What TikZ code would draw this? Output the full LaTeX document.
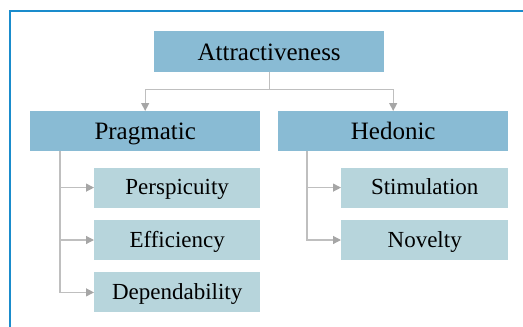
\documentclass[tikz,border=0pt]{standalone}
\usepackage{fontspec}
\setmainfont{Liberation Serif}
\usepackage{tikz}
\usetikzlibrary{arrows.meta,calc,positioning}
\definecolor{frameblue}{RGB}{26,140,204}
\definecolor{topfill}{RGB}{137,187,212}
\definecolor{subfill}{RGB}{183,213,220}
\definecolor{linkgray}{RGB}{191,191,191}
\definecolor{tipgray}{RGB}{166,166,166}
\tikzset{every picture/.style={
  >={Triangle[width=8pt,length=8pt,color=tipgray]}  % Grey triangle tips.
  }
}

\begin{document}
\begin{tikzpicture}[
    topbox/.style={             % Boxes for the main scale and its groups.
      rectangle,
      fill=topfill,
      minimum width=230pt,
      minimum height=40pt,
      inner sep=0pt,
      text height=18pt,
      text depth=1pt,
      font=\fontsize{25}{28}\selectfont
    },
    subbox/.style={             % Boxes for the single scales.
      rectangle,
      fill=subfill,
      minimum width=166pt,
      minimum height=40pt,
      inner sep=0pt,
      text height=15.6pt,
      text depth=1pt,
      font=\fontsize{23}{26}\selectfont
    },
    link/.style={               % Grey connector lines.
      draw=linkgray,
      line width=1.2pt
    }]

    % Fix the page and draw the blue frame.
    \useasboundingbox (0pt,0pt) rectangle (523pt,-327pt);
    \draw[frameblue,line width=2.4pt] (10pt,-340pt) -- (10pt,-11pt) -- (540pt,-11pt);

    % The main scale and its two groups.
    \node[topbox,minimum height=41pt,text height=19pt,anchor=north west] (attr) at (154pt,-31pt) {Attractiveness};
    \node[topbox,anchor=north west] (prag) at (30pt,-111pt) {Pragmatic};
    \node[topbox,anchor=north west] (hed) at (278pt,-111pt) {Hedonic};

    % Pragmatic scales.
    \node[subbox,below=16pt of prag.south east,anchor=north east] (persp) {Perspicuity};
    \node[subbox,below=12pt of persp] (effic) {Efficiency};
    \node[subbox,below=12pt of effic] (depend) {Dependability};

    % Hedonic scales.
    \node[subbox,minimum width=167pt,below=16pt of hed.south east,anchor=north east] (stim) {Stimulation};
    \node[subbox,minimum width=167pt,below=12pt of stim] (novel) {Novelty};

    % Split the main scale into its groups.
    \coordinate (split) at ($(attr.south)+(0pt,-17pt)$);
    \draw[link] (attr.south) -- (split);
    \draw[link,->] (split) -| (prag.north);
    \draw[link,->] (split) -| (hed.north);

    % Attach the scales to their groups.
    \coordinate (pragstem) at ([xshift=30pt]prag.south west);
    \coordinate (hedstem) at ([xshift=29pt]hed.south west);
    \draw[link,->] (pragstem) |- (persp.west);
    \draw[link,->] (pragstem) |- (effic.west);
    \draw[link,->] (pragstem) |- (depend.west);
    \draw[link,->] (hedstem) |- (stim.west);
    \draw[link,->] (hedstem) |- (novel.west);
  \end{tikzpicture}
\end{document}
